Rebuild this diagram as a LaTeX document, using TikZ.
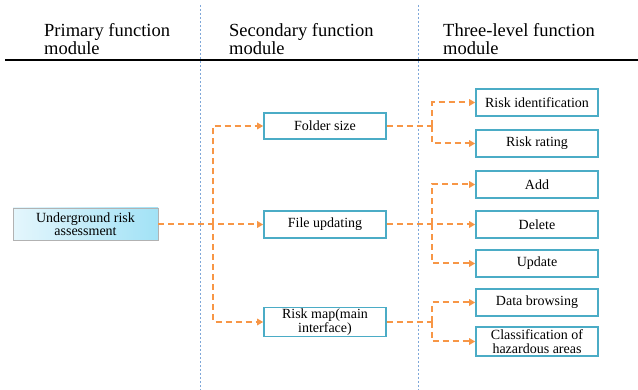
\documentclass[tikz,border=0pt]{standalone}
\usepackage{fontspec}
\setmainfont{Liberation Serif}
\usetikzlibrary{arrows.meta,shadows}
\definecolor{boxline}{HTML}{4BACC6}
\definecolor{orng}{HTML}{F79646}
\definecolor{vblue}{HTML}{7FA7D9}
\definecolor{pl}{HTML}{E4F6FC}
\definecolor{pr}{HTML}{A2E2F6}
\tikzset{
  hdr/.style={anchor=west,align=left,inner sep=0pt,font=\fontsize{18.5}{17.5}\selectfont},
  fbox/.style={draw=boxline,line width=1.6pt,fill=white,minimum width=122pt,inner sep=0pt,align=center,font=\fontsize{14}{13.5}\selectfont},
  prim/.style={draw=gray!60,line width=0.8pt,left color=pl,right color=pr,minimum width=145pt,minimum height=32pt,inner sep=0pt,align=center,font=\fontsize{14}{13.5}\selectfont,drop shadow={opacity=0.25,shadow xshift=1pt,shadow yshift=-1pt}},
  con/.style={draw=orng,line width=2pt,dash pattern=on 6pt off 4pt},
  arr/.style={con,-{Triangle[length=6pt,width=6.5pt]}},
  vsep/.style={draw=vblue,line width=1pt,dash pattern=on 2pt off 2pt}
}
\begin{document}
\begin{tikzpicture}[x=1pt,y=-1pt]
\useasboundingbox (0,0) rectangle (638,390);
% separators
\draw[vsep] (200,5) -- (200,390);
\draw[vsep] (418,5) -- (418,390);
\draw[line width=2.6pt] (5,60) -- (638,60);
% headers
\node[hdr] (h1) at (44,39) {Primary function\\module};
\node[hdr] (h2) at (229,39) {Secondary function\\module};
\node[hdr] (h3) at (443,39) {Three-level function\\module};
% primary
\node[prim] (ura) at (85.5,224) {Underground risk\\assessment};
% secondary
\node[fbox,minimum height=26pt] (fs) at (325,126) {Folder size};
\node[fbox,minimum height=27pt] (fu) at (325,224.5) {File updating};
\node[fbox,minimum height=29pt] (rm) at (325,322) {Risk map(main\\interface)};
% tertiary
\node[fbox,minimum height=27pt] (ri) at (537,102.5) {Risk identification};
\node[fbox,minimum height=27pt] (rr) at (537,143.5) {Risk rating};
\node[fbox,minimum height=27pt] (ad) at (537,184.5) {Add};
\node[fbox,minimum height=27pt] (de) at (537,224.5) {Delete};
\node[fbox,minimum height=27pt] (up) at (537,263.5) {Update};
\node[fbox,minimum height=27pt] (db) at (537,302.5) {Data browsing};
\node[fbox,minimum height=29pt] (ch) at (537,341.5) {Classification of\\hazardous areas};
% connectors level 1 -> 2
\coordinate (j1) at (213,224.5);
\draw[arr] (ura.east |- fu.west) -- (fu.west);
\draw[arr] (j1) |- (fs.west);
\draw[arr] (j1) |- (rm.west);
% level 2 -> 3
\coordinate (j2) at (432,126);
\draw[con] (fs.east) -- (j2);
\draw[arr] (j2) |- (ri.west);
\draw[arr] (j2) |- (rr.west);
\coordinate (j3) at (432,224.5);
\draw[arr] (fu.east) -- (de.west);
\draw[arr] (j3) |- (ad.west);
\draw[arr] (j3) |- (up.west);
\coordinate (j4) at (432,322);
\draw[con] (rm.east) -- (j4);
\draw[arr] (j4) |- (db.west);
\draw[arr] (j4) |- (ch.west);
\end{tikzpicture}
\end{document}
